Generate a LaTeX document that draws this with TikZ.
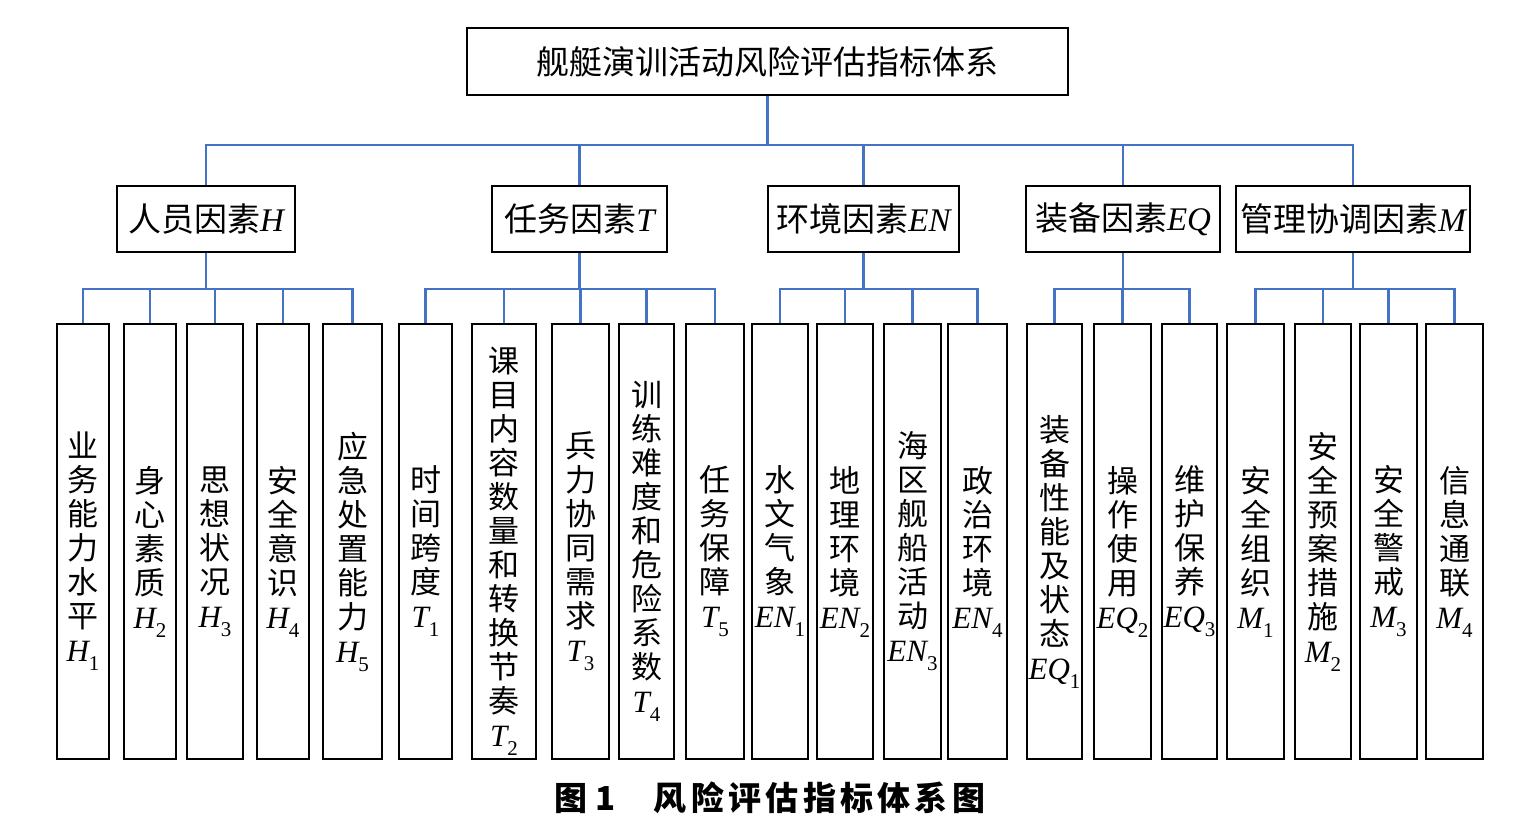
\documentclass[tikz,border=0pt]{standalone}
\usepackage{fontspec}
\setmainfont{Liberation Serif}
\newfontfamily\cjk{Noto Sans CJK SC}
\newfontfamily\capfont[LetterSpace=13]{Noto Sans CJK SC}
\newcommand\lsub[2]{{\rmfamily\itshape #1}\raisebox{-9pt}{\rmfamily\upshape\fontsize{21}{21}\selectfont #2}}
\newcommand\lit[1]{{\rmfamily\itshape #1}}
\definecolor{linkblue}{RGB}{68,114,196}
\tikzset{
  boxbase/.style={draw=black, line width=2pt, inner sep=0pt, fill=white},
  rootbox/.style={boxbase, minimum width=601pt, minimum height=67pt, font=\cjk\fontsize{33}{36}\selectfont},
  catbox/.style={boxbase, minimum height=66pt, font=\cjk\fontsize{33}{36}\selectfont},
  leafbox/.style={boxbase, minimum height=435pt},
  leaftext/.style={align=center, inner sep=0pt, font=\cjk\fontsize{31}{34}\selectfont},
  conn/.style={draw=linkblue, line width=2.4pt},
  captext/.style={inner sep=0pt, font=\capfont\bfseries\fontsize{33}{36}\selectfont}
}
\begin{document}
\begin{tikzpicture}[x=1pt,y=-1pt]
\useasboundingbox (0,0) rectangle (1534,840);
\fill[white] (0,0) rectangle (1534,840);
% root
\node[rootbox] (root) at (767.5,61.5) {舰艇演训活动风险评估指标体系};
% categories
\node[catbox, minimum width=178pt] (H)  at (206,219)   {人员因素\lit{H}};
\node[catbox, minimum width=175pt] (T)  at (579.5,219) {任务因素\lit{T}};
\node[catbox, minimum width=191pt] (EN) at (863.5,219) {环境因素\lit{EN}};
\node[catbox, minimum width=194pt] (EQ) at (1123,219)  {装备因素\lit{EQ}};
\node[catbox, minimum width=234pt] (M)  at (1353,219)  {管理协调因素\lit{M}};
% leaves
\node[leafbox, minimum width=52pt] (H1) at (83,541.5) {};
\node[leafbox, minimum width=52pt] (H2) at (150,541.5) {};
\node[leafbox, minimum width=56pt] (H3) at (215,541.5) {};
\node[leafbox, minimum width=52pt] (H4) at (283,541.5) {};
\node[leafbox, minimum width=59pt] (H5) at (352.5,541.5) {};
\node[leafbox, minimum width=53pt] (T1) at (425.5,541.5) {};
\node[leafbox, minimum width=64pt] (T2) at (504,541.5) {};
\node[leafbox, minimum width=57pt] (T3) at (580.5,541.5) {};
\node[leafbox, minimum width=55pt] (T4) at (646.5,541.5) {};
\node[leafbox, minimum width=58pt] (T5) at (715,541.5) {};
\node[leafbox, minimum width=56pt] (EN1) at (780,541.5) {};
\node[leafbox, minimum width=56pt] (EN2) at (845,541.5) {};
\node[leafbox, minimum width=57pt] (EN3) at (912.5,541.5) {};
\node[leafbox, minimum width=59pt] (EN4) at (977.5,541.5) {};
\node[leafbox, minimum width=55pt] (EQ1) at (1054.5,541.5) {};
\node[leafbox, minimum width=57pt] (EQ2) at (1122.5,541.5) {};
\node[leafbox, minimum width=55pt] (EQ3) at (1189.5,541.5) {};
\node[leafbox, minimum width=57pt] (M1) at (1255.5,541.5) {};
\node[leafbox, minimum width=56pt] (M2) at (1323,541.5) {};
\node[leafbox, minimum width=57pt] (M3) at (1388.5,541.5) {};
\node[leafbox, minimum width=57pt] (M4) at (1454.5,541.5) {};
% leaf texts
\node[leaftext] (H1t) at ([yshift=-10pt]H1.center) {业\\务\\能\\力\\水\\平\\\lsub{H}{1}};
\node[leaftext] (H2t) at ([yshift=-10pt]H2.center) {身\\心\\素\\质\\\lsub{H}{2}};
\node[leaftext] (H3t) at ([yshift=-10pt]H3.center) {思\\想\\状\\况\\\lsub{H}{3}};
\node[leaftext] (H4t) at ([yshift=-10pt]H4.center) {安\\全\\意\\识\\\lsub{H}{4}};
\node[leaftext] (H5t) at ([yshift=-10pt]H5.center) {应\\急\\处\\置\\能\\力\\\lsub{H}{5}};
\node[leaftext] (T1t) at ([yshift=-10pt]T1.center) {时\\间\\跨\\度\\\lsub{T}{1}};
\node[leaftext] (T2t) at ([yshift=-10pt]T2.center) {课\\目\\内\\容\\数\\量\\和\\转\\换\\节\\奏\\\lsub{T}{2}};
\node[leaftext] (T3t) at ([yshift=-10pt]T3.center) {兵\\力\\协\\同\\需\\求\\\lsub{T}{3}};
\node[leaftext] (T4t) at ([yshift=-10pt]T4.center) {训\\练\\难\\度\\和\\危\\险\\系\\数\\\lsub{T}{4}};
\node[leaftext] (T5t) at ([yshift=-10pt]T5.center) {任\\务\\保\\障\\\lsub{T}{5}};
\node[leaftext] (EN1t) at ([yshift=-10pt]EN1.center) {水\\文\\气\\象\\\lsub{EN}{1}};
\node[leaftext] (EN2t) at ([yshift=-10pt]EN2.center) {地\\理\\环\\境\\\lsub{EN}{2}};
\node[leaftext] (EN3t) at ([yshift=-10pt]EN3.center) {海\\区\\舰\\船\\活\\动\\\lsub{EN}{3}};
\node[leaftext] (EN4t) at ([yshift=-10pt]EN4.center) {政\\治\\环\\境\\\lsub{EN}{4}};
\node[leaftext] (EQ1t) at ([yshift=-10pt]EQ1.center) {装\\备\\性\\能\\及\\状\\态\\\lsub{EQ}{1}};
\node[leaftext] (EQ2t) at ([yshift=-10pt]EQ2.center) {操\\作\\使\\用\\\lsub{EQ}{2}};
\node[leaftext] (EQ3t) at ([yshift=-10pt]EQ3.center) {维\\护\\保\\养\\\lsub{EQ}{3}};
\node[leaftext] (M1t) at ([yshift=-10pt]M1.center) {安\\全\\组\\织\\\lsub{M}{1}};
\node[leaftext] (M2t) at ([yshift=-10pt]M2.center) {安\\全\\预\\案\\措\\施\\\lsub{M}{2}};
\node[leaftext] (M3t) at ([yshift=-10pt]M3.center) {安\\全\\警\\戒\\\lsub{M}{3}};
\node[leaftext] (M4t) at ([yshift=-10pt]M4.center) {信\\息\\通\\联\\\lsub{M}{4}};
% connectors
\coordinate (bus0) at (0,145);
\coordinate (bus1) at (0,289);
\foreach \c in {H,T,EN,EQ,M}
  \draw[conn] (root.south) -- (root.south |- bus0) -| (\c.north);
\foreach \c in {H1,H2,H3,H4,H5}
  \draw[conn] (H.south) -- (H.south |- bus1) -| (\c.north);
\foreach \c in {T1,T2,T3,T4,T5}
  \draw[conn] (T.south) -- (T.south |- bus1) -| (\c.north);
\foreach \c in {EN1,EN2,EN3,EN4}
  \draw[conn] (EN.south) -- (EN.south |- bus1) -| (\c.north);
\foreach \c in {EQ1,EQ2,EQ3}
  \draw[conn] (EQ.south) -- (EQ.south |- bus1) -| (\c.north);
\foreach \c in {M1,M2,M3,M4}
  \draw[conn] (M.south) -- (M.south |- bus1) -| (\c.north);
% caption
\node[captext] (cap) at (770,798) {图\hspace{8pt}1\hspace{38pt}风险评估指标体系图};
\end{tikzpicture}
\end{document}
